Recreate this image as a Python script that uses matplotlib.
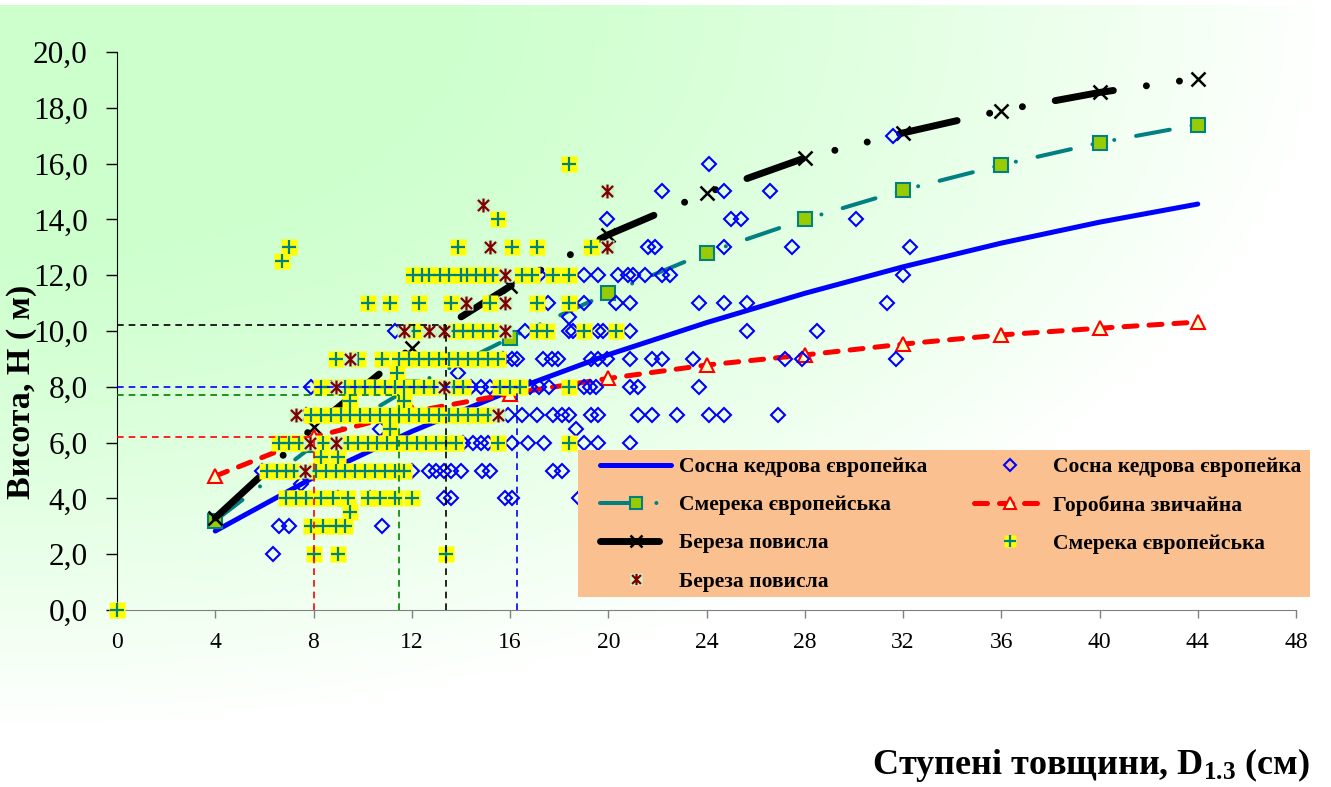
import numpy as np
import matplotlib
matplotlib.use("Agg")
import matplotlib.pyplot as plt
from matplotlib.path import Path
from matplotlib.lines import Line2D
from matplotlib.patches import Rectangle
from matplotlib.ticker import FuncFormatter

plt.rcParams['font.family'] = ['Liberation Serif', 'DejaVu Serif']
plt.rcParams['mathtext.fontset'] = 'custom'
plt.rcParams['mathtext.rm'] = 'Liberation Serif:bold'
plt.rcParams['mathtext.default'] = 'rm'

# fitted height curves, read at every 4 cm step
steps = [4, 8, 12, 16, 20, 24, 28, 32, 36, 40, 44]
pine_fit = [2.83, 4.75, 6.4, 7.85, 9.15, 10.3, 11.35, 12.3, 13.15, 13.9, 14.55]
spruce_fit = [3.2, 5.9, 8.0, 9.75, 11.35, 12.8, 14.0, 15.05, 15.95, 16.75, 17.4]
birch_fit = [3.3, 6.55, 9.4, 11.6, 13.45, 14.95, 16.2, 17.1, 17.9, 18.55, 19.05]
rowan_fit = [4.8, 6.2, 7.1, 7.75, 8.3, 8.78, 9.14, 9.53, 9.86, 10.1, 10.32]

# mean tree marks (dashed guide lines)
ref_d = [13.4, 16.3, 11.5, 8.0]
ref_h = [10.2, 8.0, 7.7, 6.2]
ref_col = ['black', '#0000FF', '#008000', '#FF0000']

# measured trees (D, H)
pine_pts = [
    (6.35, 2),
    (6.6, 3), (7.0, 3), (10.8, 3),
    (9.0, 4), (10.3, 4), (13.3, 4), (13.6, 4), (15.8, 4), (16.1, 4), (18.8, 4),
    (7.5, 4.5),
    (5.9, 5), (12.0, 5), (12.7, 5), (13.0, 5), (13.3, 5), (13.6, 5), (14.0, 5), (14.85, 5), (15.2, 5),
    (17.75, 5), (18.1, 5),
    (14.1, 6), (14.5, 6), (14.8, 6), (15.1, 6), (16.1, 6), (16.75, 6), (17.4, 6), (19.0, 6), (19.6, 6),
    (20.9, 6),
    (10.7, 6.5), (18.7, 6.5),
    (7.7, 7), (15.9, 7), (16.5, 7), (17.1, 7), (17.75, 7), (18.1, 7), (18.4, 7), (19.3, 7), (19.6, 7),
    (21.2, 7), (21.8, 7), (22.8, 7), (24.1, 7), (24.7, 7), (26.9, 7),
    (7.9, 8), (14.4, 8), (14.8, 8), (15.2, 8), (16.8, 8), (17.2, 8), (17.6, 8), (19.0, 8), (19.25, 8),
    (19.5, 8), (20.9, 8), (21.2, 8), (23.7, 8),
    (13.9, 8.5),
    (15.7, 9), (16.1, 9), (16.3, 9), (17.35, 9), (17.7, 9), (17.95, 9), (19.3, 9), (19.6, 9), (19.95, 9),
    (20.9, 9), (21.8, 9), (22.2, 9), (23.45, 9), (27.2, 9), (27.9, 9), (31.7, 9),
    (11.3, 10), (16.6, 10), (18.4, 10), (18.55, 10), (19.6, 10), (19.8, 10), (20.9, 10), (25.65, 10),
    (28.5, 10),
    (18.4, 10.5),
    (17.55, 11), (19.0, 11), (20.3, 11), (20.9, 11), (23.7, 11), (24.7, 11), (25.65, 11), (31.35, 11),
    (17.2, 12), (19.0, 12), (19.6, 12), (20.4, 12), (20.8, 12), (21.0, 12), (21.5, 12), (22.2, 12),
    (22.5, 12), (32.0, 12),
    (21.6, 13), (21.9, 13), (24.7, 13), (27.5, 13), (32.3, 13),
    (19.95, 14), (25.0, 14), (25.4, 14), (30.1, 14),
    (22.2, 15), (24.7, 15), (26.6, 15),
    (24.1, 16),
    (31.6, 17),
]

spruce_pts = [
    (0, 0),
    (8.0, 2), (9.0, 2), (13.4, 2),
    (7.9, 3), (8.4, 3), (8.9, 3), (9.3, 3),
    (9.5, 3.5),
    (6.9, 4), (7.3, 4), (7.7, 4), (8.3, 4), (8.8, 4), (9.4, 4), (10.2, 4), (10.7, 4), (11.3, 4), (12.0, 4),
    (6.1, 5), (6.5, 5), (6.9, 5), (7.2, 5), (8.1, 5), (8.5, 5), (8.9, 5), (9.3, 5), (9.7, 5), (10.1, 5),
    (10.5, 5), (10.9, 5), (11.3, 5), (11.7, 5),
    (8.3, 5.5), (9.0, 5.5),
    (6.6, 6), (7.0, 6), (7.4, 6), (8.4, 6), (9.4, 6), (9.8, 6), (10.2, 6), (10.6, 6), (11.0, 6), (11.4, 6),
    (11.8, 6), (12.2, 6), (12.6, 6), (13.0, 6), (13.4, 6), (13.8, 6), (15.5, 6), (18.4, 6),
    (11.1, 6.5),
    (7.9, 7), (8.3, 7), (8.7, 7), (9.1, 7), (9.5, 7), (9.9, 7), (10.3, 7), (10.7, 7), (11.1, 7), (11.5, 7),
    (11.9, 7), (12.3, 7), (12.7, 7), (13.1, 7), (13.5, 7), (13.9, 7), (14.3, 7), (14.7, 7), (15.1, 7),
    (9.5, 7.5), (11.7, 7.5),
    (8.3, 8), (8.7, 8), (9.3, 8), (9.7, 8), (10.1, 8), (10.5, 8), (10.9, 8), (11.3, 8), (11.7, 8), (12.1, 8),
    (12.5, 8), (12.9, 8), (13.7, 8), (14.1, 8), (15.6, 8), (16.0, 8), (16.4, 8), (18.4, 8),
    (11.4, 8.5),
    (8.9, 9), (9.8, 9), (10.8, 9), (11.5, 9), (11.9, 9), (12.3, 9), (12.7, 9), (13.1, 9), (13.5, 9),
    (13.9, 9), (14.3, 9), (14.7, 9), (15.1, 9), (15.5, 9),
    (12.1, 10), (13.7, 10), (14.1, 10), (14.5, 10), (14.9, 10), (15.3, 10), (17.1, 10), (17.5, 10),
    (19.0, 10), (20.3, 10),
    (10.2, 11), (11.1, 11), (12.3, 11), (13.6, 11), (15.2, 11), (17.1, 11), (18.4, 11),
    (12.05, 12), (12.4, 12), (12.7, 12), (13.15, 12), (13.5, 12), (14.0, 12), (14.25, 12), (14.6, 12),
    (15.0, 12), (15.3, 12), (16.5, 12), (16.9, 12), (17.75, 12), (18.4, 12),
    (6.7, 12.5),
    (7.0, 13), (13.9, 13), (16.1, 13), (17.1, 13), (19.3, 13),
    (15.5, 14),
    (18.4, 16),
]

birch_pts = [
    (7.65, 5), (7.85, 6), (8.9, 6), (7.3, 7), (15.5, 7), (8.9, 8), (13.3, 8), (9.5, 9),
    (11.7, 10), (12.7, 10), (13.3, 10), (15.8, 10), (14.2, 11), (15.8, 11), (15.8, 12),
    (15.2, 13), (19.95, 13), (14.9, 14.5), (19.95, 15),
]

pine_d, pine_h = np.array(pine_pts).T
spruce_d, spruce_h = np.array(spruce_pts).T
birch_d, birch_h = np.array(birch_pts).T

W, H = 1331, 787
def fx(px):
    return px / W
def fy(py):
    return 1 - py / H

fig = plt.figure(figsize=(W / 100, H / 100), dpi=100)

# soft green gradient behind the chart
bg = fig.add_axes([0, fy(733), 1, fy(5) - fy(733)], zorder=-10)
gx, gy = np.meshgrid(np.linspace(0, 1, 400), np.linspace(0, 1, 250))
r = np.sqrt(gx ** 2 + gy ** 2)
t = np.clip((r - 0.3) / 0.7, 0, 1) ** 1.3
green = np.array([0.80, 1.0, 0.80])
img = green[None, None, :] * (1 - t[..., None]) + t[..., None]
bg.imshow(img, aspect='auto', origin='upper', extent=[0, 1, 0, 1])
bg.axis('off')

ax = fig.add_axes([fx(117), fy(610), fx(1296) - fx(117), fy(52) - fy(610)])
ax.set_facecolor('none')

# asterisk marker: vertical bar plus a cross
star = Path([(0, -1), (0, 1), (-0.8, -0.8), (0.8, 0.8), (-0.8, 0.8), (0.8, -0.8)],
            [Path.MOVETO, Path.LINETO] * 3)

l_pine, = ax.plot(steps, pine_fit, color='#0000FF', lw=3.6, solid_capstyle='round', zorder=2)
l_spruce, = ax.plot(steps, spruce_fit, color='#008080', lw=2.9, dashes=(8.5, 5.5, 0.01, 5.5, 0.01, 5.5),
                    dash_capstyle='round', marker='s', ms=10, mfc='#99CC00', mec='#008080', mew=1.5, zorder=2)
l_birch, = ax.plot(steps, birch_fit, color='black', lw=5, dashes=(8.5, 4.8, 0.01, 4.8, 0.01, 4.8),
                   dash_capstyle='round', marker='x', ms=10, mec='black', mew=1.8, zorder=2)
l_rowan, = ax.plot(steps, rowan_fit, color='#FF0000', lw=3.6, dashes=(2.6, 2.4), dash_capstyle='round',
                   marker='^', ms=10, mfc='#FFFFCC', mec='#FF0000', mew=1.5, zorder=2)

p_pine, = ax.plot(pine_d, pine_h, ls='none', marker='D', ms=7.3, mfc='none', mec='#0000FF', mew=1.5,
                  zorder=3, clip_on=False)
s_bg, = ax.plot(spruce_d, spruce_h, ls='none', marker='s', ms=11.5, mfc='#FFFF00', mec='none',
                zorder=4, clip_on=False)
s_fg, = ax.plot(spruce_d, spruce_h, ls='none', marker='+', ms=10, mec='#008080', mew=1.6,
                zorder=4.1, clip_on=False)
b_bg, = ax.plot(birch_d, birch_h, ls='none', marker='s', ms=10, mfc='#C8F5C8', mec='none', zorder=4.2)
b_fg, = ax.plot(birch_d, birch_h, ls='none', marker=star, ms=10, mec='#800000', mew=1.6, zorder=4.3)

for d, h, c in zip(ref_d, ref_h, ref_col):
    ax.plot([0, d], [h, h], color=c, lw=1.2, ls=(0, (4, 3)), zorder=5)
    ax.plot([d, d], [0, h], color=c, lw=1.2, ls=(0, (4, 3)), zorder=5)

ax.set_xlim(0, 48)
ax.set_ylim(0, 20)
ax.set_xticks(range(0, 49, 4))
ax.set_yticks(np.arange(0, 21, 2))
ax.yaxis.set_major_formatter(FuncFormatter(lambda v, p: f"{v:.1f}".replace('.', ',')))
ax.tick_params(axis='y', direction='out', length=8, width=1, pad=13, labelsize=22.5)
ax.tick_params(axis='x', direction='out', length=6, width=1, color='#808080', pad=10, labelsize=17)
for s in ['top', 'right']:
    ax.spines[s].set_visible(False)
ax.spines['bottom'].set_color('#808080')
ax.spines['left'].set_color('black')

fig.text(fx(22), fy(392), 'Висота, Н ( м)', rotation=90, fontsize=24.5, fontweight='bold',
         ha='center', va='center')
fig.text(fx(1310), fy(765), 'Ступені товщини, $D_{1.3}$ (см)', fontsize=26, fontweight='bold',
         ha='right', va='center')

box = Rectangle((fx(578), fy(597)), fx(1310) - fx(578), fy(450) - fy(597), transform=fig.transFigure,
                facecolor='#FAC090', edgecolor='none', zorder=5)
fig.add_artist(box)

handles = [l_pine, l_spruce, l_birch, (b_bg, b_fg), p_pine, l_rowan, (s_bg, s_fg)]
labels = ['Сосна кедрова європейка', 'Смерека європейська', 'Береза повисла', 'Береза повисла',
          'Сосна кедрова європейка', 'Горобина звичайна', 'Смерека європейська']
leg = fig.legend(handles, labels, ncol=2, loc='upper left', bbox_to_anchor=(fx(600), fy(457)),
                 frameon=False, prop=dict(family='Liberation Serif', weight='bold', size=15.5),
                 handlelength=3.3, handletextpad=0.35, columnspacing=2.2, labelspacing=0.84,
                 borderaxespad=0, borderpad=0, markerscale=0.8)
leg.set_zorder(6)

fig.savefig('out.png', dpi=100)
